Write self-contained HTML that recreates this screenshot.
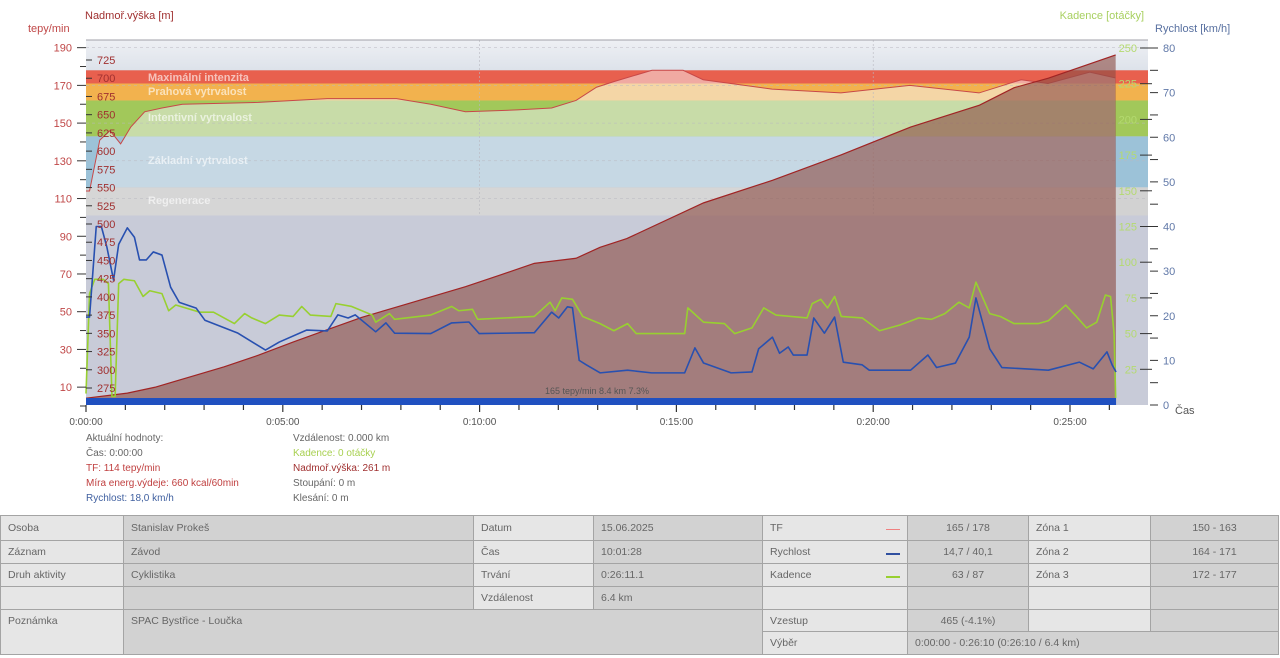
<!DOCTYPE html>
<html><head><meta charset="utf-8">
<style>
body{margin:0;width:1280px;height:658px;background:#fff;font-family:"Liberation Sans",sans-serif;overflow:hidden;position:relative}
svg text{font-family:"Liberation Sans",sans-serif}
#info{position:absolute;font-size:10px;color:#666;line-height:15px}
table{position:absolute;left:0;top:515px;border-collapse:collapse;table-layout:fixed;width:1278px;font-size:10.5px;color:#666}
td{border:1px solid #a4a4a4;padding:0 7px;white-space:nowrap;overflow:hidden}
td.l{background:#e6e6e6}td.v{background:#d2d2d2}td.c{text-align:center}
</style></head><body>
<svg id="chart" width="1280" height="512" style="position:absolute;left:0;top:0"></svg>
<div id="info" style="left:86px;top:431px">
<div>Aktuální hodnoty:</div><div>Čas: 0:00:00</div><div style="color:#c04040">TF: 114 tepy/min</div><div style="color:#c04040">Míra energ.výdeje: 660 kcal/60min</div><div style="color:#4060a0">Rychlost: 18,0 km/h</div></div>
<div id="info2" style="position:absolute;left:293px;top:431px;font-size:10px;color:#666;line-height:15px">
<div>Vzdálenost: 0.000 km</div><div style="color:#a8d050">Kadence: 0 otáčky</div><div style="color:#a03030">Nadmoř.výška: 261 m</div><div>Stoupání: 0 m</div><div>Klesání: 0 m</div></div>
<table>
<colgroup><col style="width:123px"><col style="width:350px"><col style="width:120px"><col style="width:169px"><col style="width:145px"><col style="width:121px"><col style="width:122px"><col style="width:128px"></colgroup>
<tr style="height:25px"><td class="l">Osoba</td><td class="v">Stanislav Prokeš</td><td class="l">Datum</td><td class="v">15.06.2025</td><td class="l">TF<span style="float:right;width:14px;border-top:1px solid #f08080;margin-top:7px"></span></td><td class="v c">165 / 178</td><td class="l">Zóna 1</td><td class="v c">150 - 163</td></tr>
<tr style="height:23px"><td class="l">Záznam</td><td class="v">Závod</td><td class="l">Čas</td><td class="v">10:01:28</td><td class="l">Rychlost<span style="float:right;width:14px;border-top:2px solid #3050a0;margin-top:7px"></span></td><td class="v c">14,7 / 40,1</td><td class="l">Zóna 2</td><td class="v c">164 - 171</td></tr>
<tr style="height:23px"><td class="l">Druh aktivity</td><td class="v">Cyklistika</td><td class="l">Trvání</td><td class="v">0:26:11.1</td><td class="l">Kadence<span style="float:right;width:14px;border-top:2px solid #98d030;margin-top:7px"></span></td><td class="v c">63 / 87</td><td class="l">Zóna 3</td><td class="v c">172 - 177</td></tr>
<tr style="height:23px"><td class="l"></td><td class="v"></td><td class="l">Vzdálenost</td><td class="v">6.4 km</td><td class="l"></td><td class="v"></td><td class="l"></td><td class="v"></td></tr>
<tr style="height:22px"><td class="l" rowspan="2" style="vertical-align:top;padding-top:5px">Poznámka</td><td class="v" colspan="3" rowspan="2" style="vertical-align:top;padding-top:5px">SPAC Bystřice - Loučka</td><td class="l">Vzestup</td><td class="v c">465 (-4.1%)</td><td class="l"></td><td class="v"></td></tr>
<tr style="height:23px"><td class="l">Výběr</td><td class="v" colspan="3">0:00:00 - 0:26:10 (0:26:10 / 6.4 km)</td></tr>
</table>
<script>
// ---- data ----
const hrT=[0,0.09,0.35,0.61,0.88,1.14,1.49,1.93,2.45,4.38,6.13,7.89,8.76,9.64,10.96,11.83,12.45,12.97,13.41,14.38,15.17,15.68,17.43,19.18,20.93,22.69,23.76,24.44,25.5,26.15];
const hrV=[114,114,141,146,139,148,156,158,160,161,163,163,160,156,157,158,162,169,172,178,178,173,168,166,170,166,173,171,177,174];
const spT=[0,0.09,0.26,0.39,0.53,0.70,0.83,1.05,1.23,1.36,1.53,1.71,1.93,2.15,2.37,2.80,3.02,3.51,3.86,4.56,4.91,5.61,6.13,6.40,6.66,6.84,7.36,7.62,7.84,8.76,9.29,9.73,9.99,11.39,11.83,12.01,12.23,12.36,12.53,12.71,13.06,13.76,14.37,15.21,15.47,15.69,16.39,16.92,17.09,17.44,17.62,17.84,17.97,18.32,18.49,18.76,19.02,19.24,19.72,19.90,20.95,21.39,21.61,22.09,22.44,22.61,22.96,23.27,24.45,25.24,25.59,25.94,26.07,26.17];
const spV=[19.7,19.7,40,40,35.4,28,36,39.7,37.6,32.5,32.5,34.3,33.6,26.4,23,21.7,19,17.3,16.1,12.3,14.1,16.8,16.6,20.2,19.5,20.2,16.4,18.4,16.1,16,18.4,18.6,16,16.2,20.8,19.5,22,21.8,10,9,7.2,7.8,7.2,7.2,12.8,9.4,7.2,7.4,12.6,15.2,11.6,13,11.2,11.2,19.5,16.1,19.7,9.6,9,7.8,7.8,11.2,8.4,9.4,15.2,24,12.6,8.4,7.8,9.6,8.1,11.9,9,7.4];
const cdT=[0,0.09,0.22,0.44,0.57,0.66,0.74,0.83,0.96,1.23,1.45,1.62,1.93,2.10,2.28,2.89,3.24,3.77,4.03,4.21,4.56,4.91,5.26,5.48,5.70,6.22,6.35,6.75,7.27,7.36,7.71,7.84,8.76,9.29,9.47,9.82,9.95,11.39,11.79,11.92,12.09,12.36,12.62,13.06,13.41,13.76,13.98,15.21,15.29,15.69,16.22,16.48,16.92,17.22,17.53,18.32,18.45,18.67,18.84,19.02,19.19,19.72,20.16,20.68,21.16,21.48,21.82,22.18,22.44,22.61,22.96,23.23,23.58,24.19,24.45,24.89,25.16,25.42,25.68,25.90,26.03,26.12,26.16];
const cdV=[8,78,88,88,85,6,6,85,88,87,76,80,78,66,70,65,65,57,64,61,57,63,62,69,63,62,71,69,63,58,64,60,63,69,66,67,60,62,72,66,75,74,62,57,52,57,50,50,68,58,57,50,54,68,63,61,71,74,68,76,62,61,52,56,61,60,64,72,68,86,64,62,57,57,59,70,62,54,58,77,76,50,5];
const elT=[0,1.05,1.75,2.63,3.51,4.38,5.26,6.13,7.01,7.89,8.76,9.64,10.52,11.39,12.45,13.06,13.74,15.69,17.44,19.19,20.95,22.70,23.58,24.45,26.16];
const elV=[261,268,276,290,304,320,338,355,372,386,400,414,430,446,453,468,480,529,560,595,633,663,687,700,732];
const zoneNames=["Regenerace","Základní vytrvalost","Intentivní vytrvalost","Prahová vytrvalost","Maximální intenzita"];
const zoneLo=[101,116,143,162,171];
const zoneHi=[116,143,162,171,178];
const hrTicks=[10,30,50,70,90,110,130,150,170,190];
const elTicks=[275,300,325,350,375,400,425,450,475,500,525,550,575,600,625,650,675,700,725];
const cdTicks=[25,50,75,100,125,150,175,200,225,250];
const spTicks=[0,10,20,30,40,50,60,70,80];
const timeLabels=["0:00:00","0:05:00","0:10:00","0:15:00","0:20:00","0:25:00"];
// ---- scales ----
const X0=86,X1=1148,Y0=40,YB=405,TEND=26.17;
const tx=t=>X0+t*39.36;
const hy=v=>406-v*1.886;
const ey=e=>388-(e-275)/1.372;
const sy=v=>405-v*4.4625;
const cy=c=>405-c*1.428;
const NS="http://www.w3.org/2000/svg";
const svg=document.getElementById('chart');
function mk(tag,attrs,parent){const e=document.createElementNS(NS,tag);for(const k in attrs)e.setAttribute(k,attrs[k]);(parent||svg).appendChild(e);return e;}
function txt(s,x,y,attrs){const e=mk('text',Object.assign({x:x,y:y,'font-size':11},attrs));e.textContent=s;return e;}
const defs=mk('defs',{});
const g0=mk('linearGradient',{id:'topg',x1:0,y1:0,x2:0,y2:1},defs);
mk('stop',{offset:0,'stop-color':'#eef0f4'},g0);mk('stop',{offset:1,'stop-color':'#dde2ea'},g0);
const bg=mk('rect',{x:X0,y:Y0,width:X1-X0,height:YB-Y0,fill:'#c8cbd8'});


mk('rect',{x:X0,y:Y0,width:X1-X0,height:hy(178)-Y0,fill:'url(#topg)'});
const sat=['#d2d2d2','#9cc2d8','#a2c85a','#f2b24e','#e8604e'];
const lite=['#d6d6d6','#c6d8e4','#c8dca8','#f4d6a6','#f0aaa2'];
let hp=`M${tx(hrT[0])},${YB} `;hrT.forEach((t,i)=>hp+=`L${tx(t)},${hy(hrV[i])} `);hp+=`L${tx(hrT[hrT.length-1])},${YB} Z`;
const cp=mk('clipPath',{id:'hrclip'},defs);mk('path',{d:hp},cp);
for(let i=0;i<5;i++){
 const r=mk('rect',{x:X0,y:hy(zoneHi[i]),width:X1-X0,height:hy(zoneLo[i])-hy(zoneHi[i]),fill:sat[i]});
 
 
}
const lg=mk('g',{'clip-path':'url(#hrclip)'});
for(let i=0;i<5;i++)mk('rect',{x:X0,y:hy(zoneHi[i]),width:X1-X0,height:hy(zoneLo[i])-hy(zoneHi[i]),fill:lite[i]},lg);
hrTicks.forEach(v=>{if(v>=110)mk('line',{x1:X0,x2:X1,y1:hy(v),y2:hy(v),stroke:'#b8b8c0','stroke-dasharray':'3,3','stroke-width':0.5});});
[10,20].forEach(m=>mk('line',{x1:tx(m),x2:tx(m),y1:Y0,y2:215,stroke:'#b8b8c0','stroke-dasharray':'2,2','stroke-width':0.6}));
const zly=[204,164,121,95,81];
zoneNames.forEach((n,i)=>{const t=txt(n,148,zly[i],{fill:'rgba(255,255,255,0.62)','font-weight':'bold'});
 
 });
let hl='';hrT.forEach((t,i)=>hl+=(i?'L':'M')+tx(t)+','+hy(hrV[i])+' ');
const hrl=mk('path',{d:hl,fill:'none',stroke:'#c84848','stroke-width':1});


let ep=`M${tx(0)},${YB} `;elT.forEach((t,i)=>ep+=`L${tx(Math.min(t,TEND))},${ey(elV[i])} `);ep+=`L${tx(TEND)},${YB} Z`;
const ea=mk('path',{d:ep,fill:'rgba(141,78,70,0.62)'});


let el='';elT.forEach((t,i)=>el+=(i?'L':'M')+tx(Math.min(t,TEND))+','+ey(elV[i])+' ');
mk('path',{d:el,fill:'none',stroke:'#a02424','stroke-width':1.2});
let cl='';cdT.forEach((t,i)=>cl+=(i?'L':'M')+tx(t)+','+cy(cdV[i])+' ');
const cdl=mk('path',{d:cl,fill:'none',stroke:'#98d030','stroke-width':1.6,'stroke-linejoin':'round'});


let sl='';spT.forEach((t,i)=>sl+=(i?'L':'M')+tx(t)+','+sy(spV[i])+' ');
const spl=mk('path',{d:sl,fill:'none',stroke:'#2850b0','stroke-width':1.6,'stroke-linejoin':'round'});


const bb=mk('rect',{x:X0,y:398,width:tx(TEND)-X0,height:7,fill:'#2050c0'});


txt('165 tepy/min 8.4 km 7.3%',545,394,{fill:'#555','font-size':9});
mk('line',{x1:X0,x2:X1,y1:Y0,y2:Y0,stroke:'#a0a0a8'});
hrTicks.forEach(v=>{mk('line',{x1:77,x2:86,y1:hy(v),y2:hy(v),stroke:'#333'});txt(v,72,hy(v)+4,{fill:'#c04848','text-anchor':'end'});});
hrTicks.forEach(v=>{if(v<190)mk('line',{x1:80,x2:86,y1:hy(v+10),y2:hy(v+10),stroke:'#333'});});
mk('line',{x1:80,x2:86,y1:hy(0),y2:hy(0),stroke:'#333'});
elTicks.forEach(v=>{mk('line',{x1:86,x2:92,y1:ey(v),y2:ey(v),stroke:'#333'});txt(v,97,ey(v)+4,{fill:'#a03030'});});
cdTicks.forEach(v=>{mk('line',{x1:1140,x2:1152,y1:cy(v),y2:cy(v),stroke:'#333'});txt(v,1137,cy(v)+4,{fill:'#b4da70','text-anchor':'end'});});
spTicks.forEach(v=>{mk('line',{x1:1150,x2:1158,y1:sy(v),y2:sy(v),stroke:'#333'});txt(v,1163,sy(v)+4,{fill:'#6078a8'});
 if(v<80)mk('line',{x1:1150,x2:1158,y1:sy(v+5),y2:sy(v+5),stroke:'#333'});});
for(let m=0;m<=26;m++)mk('line',{x1:tx(m),x2:tx(m),y1:YB,y2:m%5?410:412,stroke:'#333','stroke-width':1.2});
timeLabels.forEach((s,i)=>txt(s,tx(i*5),425,{fill:'#555','text-anchor':'middle','font-size':10}));
const t1=txt('tepy/min',28,32,{fill:'#c04848'});
const t2=txt('Nadmoř.výška [m]',85,19,{fill:'#a03030'});
const t3=txt('Kadence [otáčky]',1144,19,{fill:'#a8d060','text-anchor':'end'});
const t4=txt('Rychlost [km/h]',1155,32,{fill:'#5870a0'});
const t5=txt('Čas',1175,414,{fill:'#555'});
</script>
</body></html>
